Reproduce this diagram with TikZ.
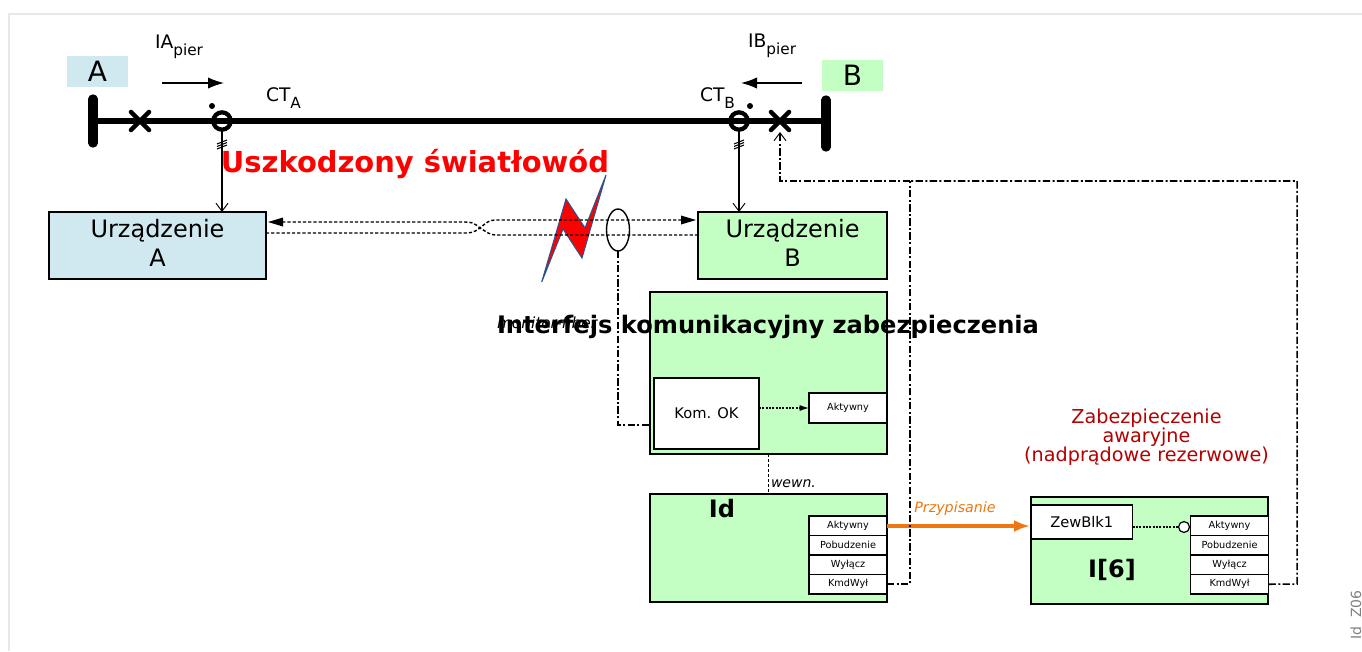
\documentclass[tikz,border=0pt]{standalone}
\usepackage{fontspec}
\setmainfont{DejaVu Sans}
\usetikzlibrary{arrows.meta}
\definecolor{gr}{HTML}{C3FFC3}
\definecolor{bl}{HTML}{D0E8EF}
\definecolor{darkred}{HTML}{B30000}
\definecolor{orng}{HTML}{EE7711}
\newcommand{\fs}[1]{\fontsize{#1}{#1}\selectfont}
\newcommand{\subtxt}[1]{\raisebox{-0.42em}{\fontsize{11.5}{11.5}\selectfont #1}}
\tikzset{
  x=0.75pt,y=-0.75pt,
  wh/.style 2 args={minimum width=#1*0.75pt,minimum height=#2*0.75pt,inner sep=0pt,outer sep=0pt,anchor=north west},
  gbox/.style={draw=black,line width=1pt,fill=gr},
  bbox/.style={draw=black,line width=1pt,fill=bl},
  wbox/.style={draw=black,line width=0.9pt,fill=white},
  cell/.style={wbox,wh={78}{19.5},font=\fs{7.3}},
  lbl/.style={inner sep=0pt,outer sep=0pt},
  busbar/.style={line width=7pt,line cap=round},
  mainline/.style={line width=3.8pt},
  sig/.style={line width=1pt,-{Straight Barb[length=6pt,width=9pt,line width=0.7pt]}},
  fast/.style={line width=1.05pt,dash pattern=on 2.4pt off 1.5pt},
  fine/.style={line width=0.9pt,dash pattern=on 1.5pt off 1pt},
  ddot/.style={line width=1.15pt,dash pattern=on 5.5pt off 1.8pt on 1.5pt off 1.8pt},
  fill tip/.style={-{Latex[length=12pt,width=8.5pt]}},
  crossm/.style={line width=3.4pt,line cap=round},
  ct/.style={circle,draw=black,line width=3.2pt,minimum size=13pt,inner sep=0pt,outer sep=0pt},
  tick/.style={line width=0.8pt},
  dotm/.style={circle,fill=black,minimum size=4.5pt,inner sep=0pt}
}
\begin{document}
\begin{tikzpicture}
\useasboundingbox (0,0) rectangle (1362,651);
% frame
\coordinate (fa) at (9,651); \coordinate (fb) at (9,14); \coordinate (fc) at (1362,14);
\draw[draw=black!9,line width=1.5pt] (fa) -- (fb) -- (fc);

% top tags
\node[wh={61}{31},fill=bl,font=\fs{21}] (tagA) at (67,56) {A};
\node[wh={61}{31},fill=gr,font=\fs{21}] (tagB) at (822,60) {B};

% bus line
\coordinate (busA) at (93,121); \coordinate (busB) at (826,121);
\coordinate (busAt) at (93,99); \coordinate (busAb) at (93,143);
\coordinate (busBt) at (826,100); \coordinate (busBb) at (826,147);
\draw[mainline] (busA) -- (busB);
\draw[busbar] (busAt) -- (busAb);
\draw[busbar] (busBt) -- (busBb);
% breakers
\draw[crossm] (131,112) -- (149,130) (131,130) -- (149,112);
\draw[crossm] (771,112) -- (789,130) (771,130) -- (789,112);
% CTs
\node[ct] (cta) at (222,121) {};
\node[ct] (ctb) at (739,121) {};
\node[dotm] (dota) at (212,106) {};
\node[dotm] (dotb) at (750,106) {};
% flow arrows
\coordinate (fa1) at (162,83); \coordinate (fa2) at (224,83);
\coordinate (fb1) at (802,83); \coordinate (fb2) at (741,83);
\draw[line width=1.1pt,fill tip] (fa1) -- (fa2);
\draw[line width=1.1pt,fill tip] (fb1) -- (fb2);
% labels
\node[lbl,anchor=base west,font=\fs{14}] (iap) at (155,48) {IA\subtxt{pier}};
\node[lbl,anchor=base west,font=\fs{14}] (ibp) at (748,47) {IB\subtxt{pier}};
\node[lbl,anchor=base west,font=\fs{14}] (cal) at (266,101) {CT\subtxt{A}};
\node[lbl,anchor=base west,font=\fs{14}] (cbl) at (700,101) {CT\subtxt{B}};

% devices
\node[bbox,wh={217}{67}] (ua) at (49,212) {};
\node[lbl,align=center,font=\fs{18}] (uat) at (157.5,243) {Urządzenie\\[3.2pt]A};
\node[gbox,wh={189}{67}] (ub) at (698,212) {};
\node[lbl,align=center,font=\fs{18}] (ubt) at (792.5,243) {Urządzenie\\[3.2pt]B};

% CT to device
\draw[sig] (cta.south) -- (cta.south |- ua.north);
\draw[sig] (ctb.south) -- (ctb.south |- ub.north);
\draw[tick] (217,144) -- (227,140) (217,146.5) -- (227,142.5) (217,149) -- (227,145);
\draw[tick] (734,144) -- (744,140) (734,146.5) -- (744,142.5) (734,149) -- (744,145);

% lightning
\path[draw={rgb,255:red,47;green,82;blue,143},line width=0.8pt,fill=red]
  (541.7,282) -- (566,199) -- (585,228) -- (606,175) -- (582,258) -- (563,229) -- cycle;

% communication lines
\coordinate (ca2) at (266,233);
\coordinate (cb2) at (698,235);
\coordinate (cross) at (480,228);
\draw[fast] (ub.west |- cb2) -- (497,235) .. controls (489,235) and (487,232) .. (cross)
   .. controls (473,222) and (471,222) .. (462,222) -- (278,222);
\draw[fast] (ua.east |- ca2) -- (462,233) .. controls (471,233) and (473,233) .. (cross)
   .. controls (487,222) and (489,220) .. (497,220) -- (686,220);
\path[fill=black] (268,222) -- (283,217.5) -- (283,226.5) -- cycle;
\path[fill=black] (696,220) -- (681,215.5) -- (681,224.5) -- cycle;

% monitor ellipse
\draw[line width=1.05pt,fill=none] (618,230) ellipse [x radius=11.5,y radius=21];
\coordinate (elb) at (618,251);

% damaged fibre title
\node[lbl,font=\bfseries\fs{21.7},text=red,anchor=base] (usz) at (415,172) {Uszkodzony światłowód};

% interface box
\node[gbox,wh={237}{162}] (ifb) at (650,292) {};
\node[wbox,wh={105}{71},font=\fs{11}] (kom) at (654,378) {Kom. OK};
\node[wbox,wh={78}{30},font=\fs{7.3}] (akt) at (809,393) {Aktywny};
\draw[fine,-{Latex[length=7pt,width=4.5pt]}] (kom.east |- akt.west) -- (akt.west);
\draw[ddot] (elb) -- (618,425) -- (ifb.west |- 618,425);

\node[lbl,font=\itshape\fs{11.5},anchor=base west] (mon) at (497,328) {monitor-fiber};
\node[lbl,font=\bfseries\fs{18.1},anchor=base] (ift) at (768,333) {Interfejs komunikacyjny zabezpieczenia};

% Id box
\node[gbox,wh={237}{108}] (id) at (650,494) {};
\node[lbl,font=\bfseries\fs{18}] (idt) at (722,509) {Id};
\node[cell] (i1) at (809,516) {Aktywny};
\node[cell] (i2) at (809,535.5) {Pobudzenie};
\node[cell] (i3) at (809,555) {Wyłącz};
\node[cell] (i4) at (809,574.5) {KmdWył};
\draw[line width=1.3pt,dash pattern=on 2.2pt off 1.6pt] (ifb.south) -- (id.north);
\node[lbl,font=\itshape\fs{10.5},anchor=base west] (wew) at (771,487) {wewn.};

% I[6] box
\node[gbox,wh={237}{107}] (i6) at (1031,497) {};
\node[wbox,wh={101.5}{34},font=\fs{11}] (zb) at (1031,505) {ZewBlk1};
\node[lbl,font=\bfseries\fs{18}] (i6t) at (1112,570) {I[6]};
\node[cell] (j1) at (1190.5,516) {Aktywny};
\node[cell] (j2) at (1190.5,535.5) {Pobudzenie};
\node[cell] (j3) at (1190.5,555) {Wyłącz};
\node[cell] (j4) at (1190.5,574.5) {KmdWył};
\node[circle,draw=black,fill=white,line width=0.9pt,minimum size=8.2pt,inner sep=0pt,outer sep=0pt] (neg) at (1184,527) {};
\draw[fine] (zb.east |- neg.west) -- (neg.west);
\node[lbl,align=center,font=\fs{14.4},text=darkred] (zab) at (1146.5,437) {Zabezpieczenie\\awaryjne\\(nadprądowe rezerwowe)};

% assignment
\draw[orng,line width=3.6pt,-{Latex[length=12pt,width=9pt]}] (887,526) -- (1030,526);
\node[lbl,font=\itshape\fs{10.7},text=orng] (prz) at (955,509) {Przypisanie};

% trip lines
\coordinate (j0) at (910,181);
\draw[ddot] (i4.east) -- (i4.east -| j0) -- (j0);
\draw[ddot] (j4.east) -- (1297,584) -- (1297,181) -- (j0);
\draw[ddot,-{Straight Barb[length=6pt,width=9pt,line width=0.7pt]}] (j0) -- (780,181) -- (780,132);

% side id
\node[lbl,rotate=90,font=\fs{10.5},text=black!50] (sid) at (1356,615) {Id\ \ Z06};
\end{tikzpicture}
\end{document}
